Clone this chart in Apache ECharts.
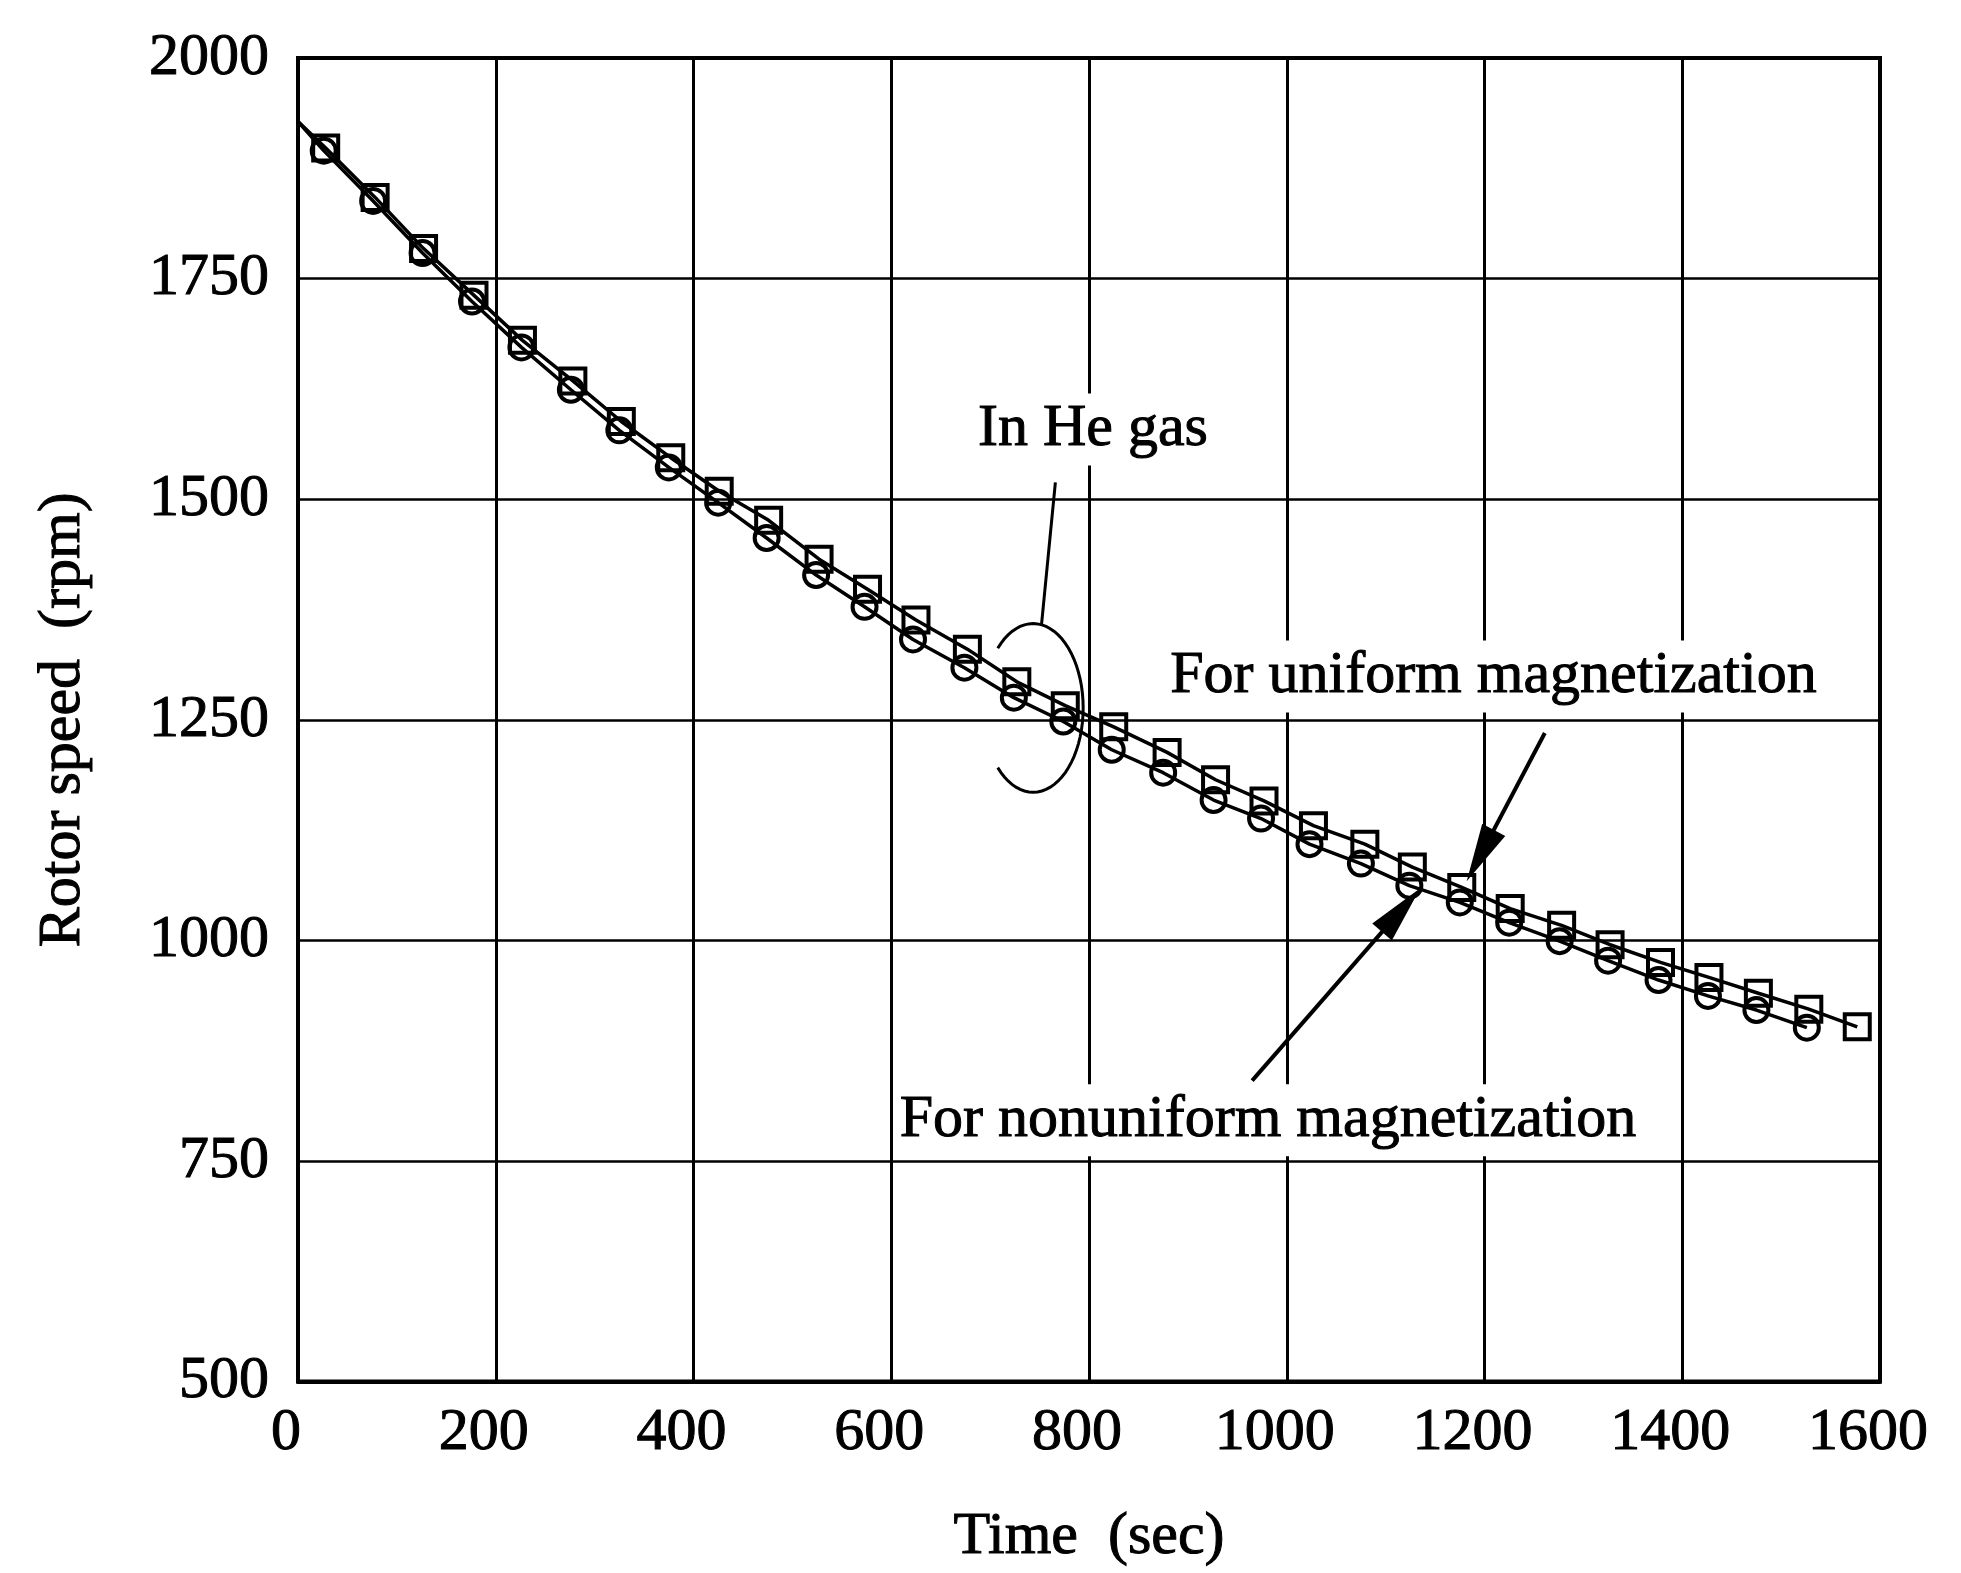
<!DOCTYPE html>
<html>
<head>
<meta charset="utf-8">
<script src="https://cdn.jsdelivr.net/npm/echarts@6/dist/echarts.min.js"></script>
<style>
html,body{margin:0;padding:0;background:#fff;}
#c{width:1961px;height:1573px;}
</style>
</head>
<body>
<div id="c"></div>
<script>
// ---- data ----
const lineStart = [0, 1928];
const squareTimes  = [28, 78, 127, 178, 227, 278, 327, 377, 426, 476, 527, 576, 625, 677, 727, 776, 825, 879, 928, 977, 1027, 1079, 1127, 1177, 1226, 1278, 1327, 1378, 1427, 1477, 1528, 1577];
const squareSpeeds = [1898, 1842, 1784, 1731, 1680, 1634, 1588, 1547, 1509, 1476, 1432, 1398, 1363, 1330, 1293, 1266, 1242, 1213, 1182, 1158, 1130, 1109, 1083, 1060, 1036, 1017, 995, 975, 958, 940, 922, 902];
const circleTimes  = [26, 76, 126, 176, 226, 276, 325, 375, 425, 474, 524, 573, 622, 674, 724, 774, 823, 875, 926, 974, 1023, 1075, 1124, 1175, 1225, 1276, 1325, 1376, 1426, 1475, 1526];
const circleSpeeds = [1895, 1838, 1779, 1724, 1672, 1624, 1578, 1536, 1496, 1456, 1414, 1378, 1341, 1309, 1275, 1248, 1216, 1190, 1159, 1138, 1109, 1087, 1062, 1043, 1020, 999, 977, 955, 937, 921, 901];
const xTicks = [0, 200, 400, 600, 800, 1000, 1200, 1400, 1600];
const yTicks = [500, 750, 1000, 1250, 1500, 1750, 2000];
const xTitle = 'Time  (sec)';
const yTitle = 'Rotor speed  (rpm)';
const labelHe = 'In He gas';
const labelUniform = 'For uniform magnetization';
const labelNonuniform = 'For nonuniform magnetization';

// annotation anchors in data units
const heTextAt = [804, 1579];
const heLeader = [[766, 1519], [752, 1358]];
const heBracketCenter = [743.5, 1263.4];
const heBracketRadii = [50.6, 95.6];
const uniTextAt = [1209, 1299];
const uniArrow = [[1261, 1235], [1182, 1067]];
const nonTextAt = [981, 796];
const nonArrow = [[965, 841], [1135, 1059]];

// ---- chart ----
const FONT = '"Liberation Serif", "Times New Roman", serif';
const INK = {textBorderColor: '#000', textBorderWidth: 1};
const chart = echarts.init(document.getElementById('c'), null, {renderer: 'canvas'});

function build(times, speeds) {
  const d = [{value: lineStart.slice(), symbol: 'none'}];
  for (let i = 0; i < times.length; i++) d.push([times[i], speeds[i]]);
  return d;
}
const plain = v => String(v);

chart.setOption({
  animation: false,
  backgroundColor: '#fff',
  grid: {left: 298, top: 58, right: 81, bottom: 173, show: true, borderColor: '#000', borderWidth: 4, containLabel: false},
  xAxis: {
    type: 'value',
    min: xTicks[0], max: xTicks[xTicks.length - 1], interval: xTicks[1] - xTicks[0],
    name: xTitle, nameLocation: 'middle', nameGap: 126,
    nameTextStyle: Object.assign({fontFamily: FONT, fontSize: 60, color: '#000'}, INK),
    axisLine: {show: true, lineStyle: {color: '#000', width: 4}},
    axisTick: {show: false},
    axisLabel: Object.assign({fontFamily: FONT, fontSize: 60, color: '#000', margin: 22, padding: [0, 24, 0, 0], formatter: plain}, INK),
    splitLine: {show: true, lineStyle: {color: '#000', width: 3}}
  },
  yAxis: {
    type: 'value',
    min: yTicks[0], max: yTicks[yTicks.length - 1], interval: yTicks[1] - yTicks[0],
    name: yTitle, nameLocation: 'middle', nameGap: 205,
    nameTextStyle: Object.assign({fontFamily: FONT, fontSize: 60, color: '#000'}, INK),
    axisLine: {show: true, lineStyle: {color: '#000', width: 4}},
    axisTick: {show: false},
    axisLabel: Object.assign({fontFamily: FONT, fontSize: 60, color: '#000', margin: 29, formatter: plain}, INK),
    splitLine: {show: true, lineStyle: {color: '#000', width: 2.5}}
  },
  series: [
    {
      name: 'circles', type: 'line', data: build(circleTimes, circleSpeeds),
      symbol: 'circle', symbolSize: 24,
      itemStyle: {color: 'rgba(0,0,0,0)', borderColor: '#000', borderWidth: 4},
      lineStyle: {color: '#000', width: 3.5},
      z: 3
    },
    {
      name: 'squares', type: 'line', data: build(squareTimes, squareSpeeds),
      symbol: 'rect', symbolSize: 25,
      itemStyle: {color: 'rgba(0,0,0,0)', borderColor: '#000', borderWidth: 4},
      lineStyle: {color: '#000', width: 3.5},
      z: 4
    }
  ]
});

// ---- annotations (positioned from data coordinates) ----
function px(p) { return chart.convertToPixel({gridIndex: 0}, p); }
function textEl(str, at) {
  const p = px(at);
  return {
    type: 'text', x: p[0], y: p[1], z: 100,
    style: {
      text: str, font: '60px ' + FONT, fill: '#000', stroke: '#000', lineWidth: 1,
      align: 'center', verticalAlign: 'middle', textAlign: 'center', textVerticalAlign: 'middle',
      backgroundColor: '#fff', padding: [6, 6]
    }
  };
}
function arrowEls(seg) {
  const s = px(seg[0]), t = px(seg[1]);
  const dx = t[0] - s[0], dy = t[1] - s[1];
  const L = Math.sqrt(dx * dx + dy * dy);
  const ux = dx / L, uy = dy / L;
  const headLen = 58, halfW = 13;
  const bx = t[0] - ux * headLen, by = t[1] - uy * headLen;
  return [
    {type: 'line', z: 101, shape: {x1: s[0], y1: s[1], x2: bx + ux * 4, y2: by + uy * 4}, style: {stroke: '#000', lineWidth: 4}},
    {type: 'polygon', z: 101, shape: {points: [[t[0], t[1]], [bx - uy * halfW, by + ux * halfW], [bx + uy * halfW, by - ux * halfW]]}, style: {fill: '#000'}}
  ];
}
const g = [];
g.push(textEl(labelHe, heTextAt));
g.push(textEl(labelUniform, uniTextAt));
g.push(textEl(labelNonuniform, nonTextAt));
const l0 = px(heLeader[0]), l1 = px(heLeader[1]);
g.push({type: 'line', z: 101, shape: {x1: l0[0], y1: l0[1], x2: l1[0], y2: l1[1]}, style: {stroke: '#000', lineWidth: 3}});
const c = px(heBracketCenter);
const rx = px([heBracketCenter[0] + heBracketRadii[0], heBracketCenter[1]])[0] - c[0];
const ry = c[1] - px([heBracketCenter[0], heBracketCenter[1] + heBracketRadii[1]])[1];
const arcPts = [];
for (let a = 135; a >= -135; a -= 5) {
  const r = a * Math.PI / 180;
  arcPts.push([c[0] + rx * Math.cos(r), c[1] - ry * Math.sin(r)]);
}
g.push({type: 'polyline', z: 101, shape: {points: arcPts}, style: {stroke: '#000', lineWidth: 3, fill: null}});
arrowEls(uniArrow).forEach(e => g.push(e));
arrowEls(nonArrow).forEach(e => g.push(e));
chart.setOption({graphic: g});
</script>
</body>
</html>
